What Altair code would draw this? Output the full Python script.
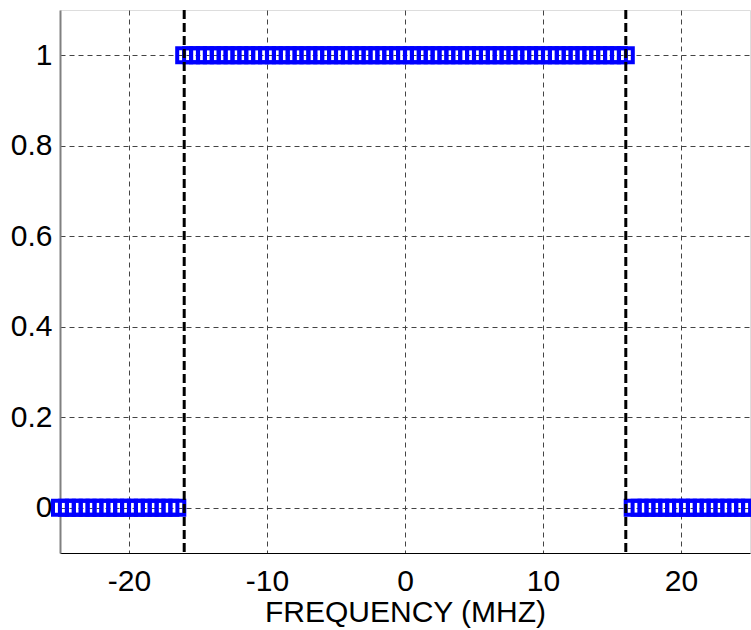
import altair as alt
import pandas as pd

# Frequency samples (MHz) and magnitude values
freq_low = [-25, -24.5, -24, -23.5, -23, -22.5, -22, -21.5, -21, -20.5,
            -20, -19.5, -19, -18.5, -18, -17.5, -17, -16.5]
val_low = [0] * len(freq_low)

freq_pass = [-16, -15.5, -15, -14.5, -14, -13.5, -13, -12.5, -12, -11.5,
             -11, -10.5, -10, -9.5, -9, -8.5, -8, -7.5, -7, -6.5,
             -6, -5.5, -5, -4.5, -4, -3.5, -3, -2.5, -2, -1.5,
             -1, -0.5, 0, 0.5, 1, 1.5, 2, 2.5, 3, 3.5,
             4, 4.5, 5, 5.5, 6, 6.5, 7, 7.5, 8, 8.5,
             9, 9.5, 10, 10.5, 11, 11.5, 12, 12.5, 13, 13.5,
             14, 14.5, 15, 15.5, 16]
val_pass = [1] * len(freq_pass)

freq_high = [16.5, 17, 17.5, 18, 18.5, 19, 19.5, 20, 20.5, 21,
             21.5, 22, 22.5, 23, 23.5, 24, 24.5, 25]
val_high = [0] * len(freq_high)

band_edges = [-16, 16]

x_ticks = [-20, -10, 0, 10, 20]
y_ticks = [0, 0.2, 0.4, 0.6, 0.8, 1]

df = pd.DataFrame({
    "f": freq_low + freq_pass + freq_high,
    "v": val_low + val_pass + val_high,
})
edges = pd.DataFrame({"f": band_edges})

FONT = "Liberation Sans"

xscale = alt.Scale(domain=[-25, 25], nice=False, zero=False)
yscale = alt.Scale(domain=[-0.1, 1.1], nice=False, zero=False)

points = alt.Chart(df).mark_point(
    shape="square", filled=False, color="#0000FF", size=196, strokeWidth=4,
    opacity=1, clip=False
).encode(
    x=alt.X("f:Q", scale=xscale, axis=alt.Axis(
        values=x_ticks, title="FREQUENCY (MHZ)", grid=True,
        gridDash=[5, 4], gridColor="#444444", gridWidth=1, gridOpacity=1,
        domainColor="#000000", domainWidth=1, ticks=False,
        labelFontSize=30, labelFont=FONT, labelColor="#000000", labelPadding=13,
        labelExpr="'' + datum.value",
        titleFontSize=30, titleFont=FONT, titleFontWeight="normal",
        titleColor="#000000", titlePadding=1)),
    y=alt.Y("v:Q", scale=yscale, axis=alt.Axis(
        values=y_ticks, title=None, grid=True,
        gridDash=[5, 4], gridColor="#444444", gridWidth=1, gridOpacity=1,
        domainColor="#808080", domainWidth=2, ticks=False,
        labelFontSize=30, labelFont=FONT, labelColor="#000000", labelPadding=8,
        labelExpr="'' + datum.value")),
)

rules = alt.Chart(edges).mark_rule(
    color="#000000", strokeWidth=3, strokeDash=[9, 4]
).encode(x=alt.X("f:Q", scale=xscale))

chart = alt.layer(points, rules).properties(
    width=690, height=543,
    autosize=alt.AutoSizeParams(type="none"),
    padding={"left": 60, "top": 10, "right": 1, "bottom": 77},
).configure_view(stroke=None).configure(background="white")

chart.save("out.html", embed_options={"renderer": "svg", "actions": False})
